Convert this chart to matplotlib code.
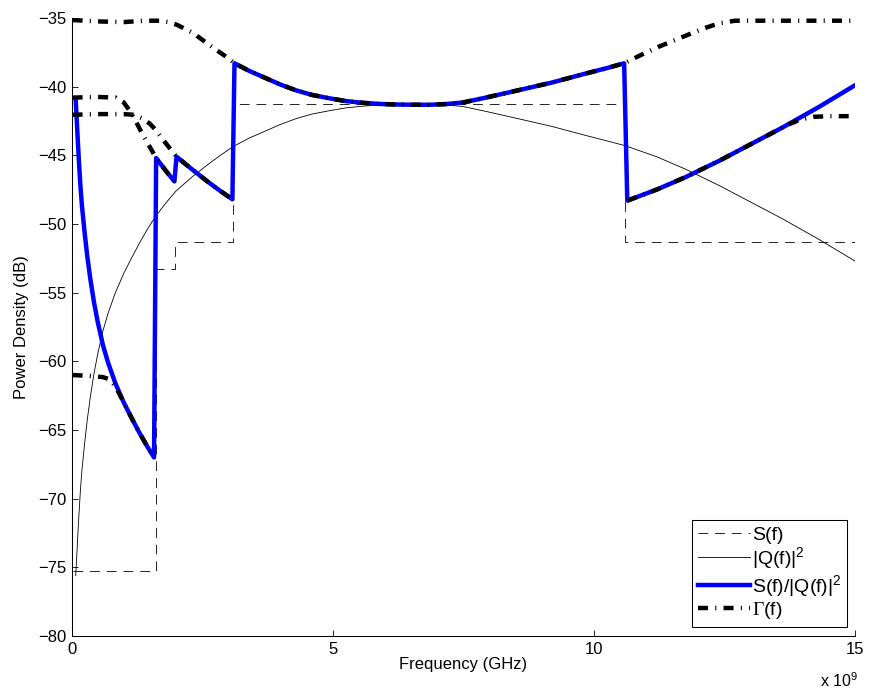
import numpy as np
import matplotlib
matplotlib.use('Agg')
import matplotlib.pyplot as plt

plt.rcParams.update({'font.family': 'Liberation Sans', 'font.size': 12,
    'mathtext.fontset': 'custom', 'mathtext.rm': 'Liberation Sans',
    'mathtext.it': 'Liberation Sans:italic', 'mathtext.sf': 'Liberation Serif',
    'lines.scale_dashes': False, 'axes.linewidth': 0.75,
    'xtick.direction': 'in', 'ytick.direction': 'in',
    'xtick.major.size': 4.5, 'ytick.major.size': 4.5,
    'xtick.major.width': 0.6, 'ytick.major.width': 0.6})

# --- data (frequency in GHz, levels in dB) ---
# S(f): stepwise emission mask
mask_edges = [0.02, 1.61, 1.99, 3.1, 10.6, 15.0]
mask_level = [-75.3, -53.3, -51.3, -41.3, -51.3]

# |Q(f)|^2
q_f = [0.08, 0.10, 0.12, 0.14, 0.17, 0.20, 0.25, 0.30, 0.36, 0.43, 0.50, 0.60,
       0.70, 0.84, 1.00, 1.16, 1.30, 1.45, 1.60, 1.80, 2.00, 2.30, 2.60, 2.85,
       3.10, 3.40, 3.67, 4.00, 4.30, 4.60, 4.94, 5.25, 5.58, 5.90, 6.20, 6.55,
       6.85, 7.17, 7.50, 7.93, 8.57, 9.20, 9.84, 10.25, 10.60, 11.20, 11.75,
       12.40, 13.00, 13.60, 14.30, 15.00]
q_db = [-75.6, -74.2, -72.7, -71.3, -69.4, -67.9, -66.0, -64.3, -62.6, -60.9,
        -59.5, -57.8, -56.5, -55.0, -53.6, -52.4, -51.4, -50.4, -49.5, -48.5,
        -47.6, -46.6, -45.7, -45.0, -44.35, -43.75, -43.3, -42.75, -42.33, -42.0,
        -41.75, -41.55, -41.42, -41.34, -41.3, -41.28, -41.28, -41.33, -41.45,
        -41.8, -42.35, -42.9, -43.55, -43.95, -44.3, -45.1, -46.0, -47.2, -48.4,
        -49.6, -51.1, -52.7]

# S(f)/|Q(f)|^2
r_f = [0.08, 0.10, 0.12, 0.14, 0.17, 0.20, 0.25, 0.30, 0.36, 0.43, 0.50, 0.60,
       0.70, 0.84, 1.00, 1.16, 1.30, 1.45, 1.58, 1.62, 1.80, 1.97, 2.01, 2.30,
       2.60, 2.85, 3.08, 3.12, 3.40, 3.67, 4.00, 4.30, 4.60, 4.94, 5.25, 5.58,
       5.90, 6.20, 6.55, 6.85, 7.17, 7.50, 7.93, 8.57, 9.20, 9.84, 10.25, 10.58,
       10.64, 11.20, 11.75, 12.40, 13.00, 13.60, 14.30, 15.00]
r_db = [-41.0, -42.4, -43.9, -45.3, -47.2, -48.7, -50.6, -52.3, -54.0, -55.7,
        -57.1, -58.8, -60.1, -61.6, -63.0, -64.2, -65.2, -66.2, -67.0, -45.2,
        -46.1, -46.9, -45.1, -46.0, -46.9, -47.6, -48.2, -38.3, -38.85, -39.3,
        -39.85, -40.27, -40.6, -40.85, -41.05, -41.18, -41.26, -41.3, -41.32,
        -41.32, -41.27, -41.15, -40.8, -40.25, -39.7, -39.05, -38.65, -38.3,
        -48.3, -47.5, -46.6, -45.4, -44.2, -43.0, -41.5, -39.9]

# Gamma(f): one trace per mask band
g1_f = [0.02, 0.5, 1.0, 1.4, 1.7, 1.85, 2.02, 2.33, 2.65, 2.97, 3.12, 3.40, 3.67,
        4.00, 4.30, 4.60, 4.94, 5.25, 5.58, 5.90, 6.20, 6.55, 6.85, 7.17, 7.50,
        7.93, 8.57, 9.20, 9.84, 10.25, 10.58, 10.90, 11.24, 11.56, 11.88, 12.15,
        12.39, 12.70, 15.0]
g1_db = [-35.15, -35.25, -35.3, -35.2, -35.2, -35.3, -35.5, -36.1, -37.0, -37.85,
         -38.3, -38.85, -39.3, -39.85, -40.27, -40.6, -40.85, -41.05, -41.18,
         -41.26, -41.3, -41.32, -41.32, -41.27, -41.15, -40.8, -40.25, -39.7,
         -39.05, -38.65, -38.3, -37.7, -37.1, -36.6, -36.1, -35.7, -35.4, -35.2,
         -35.2]
g2_f = [0.02, 0.5, 0.85, 1.0, 1.16, 1.35, 1.5, 1.62, 1.80, 1.97]
g2_db = [-40.8, -40.75, -40.8, -41.15, -42.0, -43.4, -44.4, -45.2, -46.1, -46.9]
g3_f = [0.02, 0.5, 1.0, 1.2, 1.35, 1.5, 1.6, 1.8, 2.01, 2.30, 2.60, 2.85, 3.08]
g3_db = [-42.05, -42.0, -42.0, -42.05, -42.3, -42.7, -43.1, -44.1, -45.1, -46.0,
         -46.9, -47.6, -48.2]
g4_f = [0.02, 0.3, 0.6, 0.72, 0.84, 1.00, 1.16, 1.30, 1.45, 1.58]
g4_db = [-61.0, -61.05, -61.15, -61.3, -61.8, -63.0, -64.2, -65.2, -66.2, -67.0]
g5_f = [10.64, 11.20, 11.75, 12.40, 13.00, 13.40, 13.70, 13.95, 14.2, 14.5, 15.0]
g5_db = [-48.3, -47.5, -46.6, -45.4, -44.2, -43.4, -42.8, -42.4, -42.2, -42.15, -42.15]

GHZ = 1e9
fig = plt.figure(figsize=(8.69, 6.91), dpi=100)
ax = fig.add_axes([0.0823, 0.0796, 0.9016, 0.8944])

ax.plot(np.array(mask_edges)*GHZ, mask_level+[mask_level[-1]], color='k', lw=0.6,
        drawstyle='steps-post', dashes=(7, 5), label='S(f)')
ax.plot(np.array(q_f)*GHZ, q_db, color='k', lw=0.6, label='$|$Q(f)$|^2$')
ax.plot(np.array(r_f)*GHZ, r_db, color='#0000FF', lw=3.2, label='S(f)/$|$Q(f)$|^2$')
gam = [(g1_f, g1_db), (g2_f, g2_db), (g3_f, g3_db), (g4_f, g4_db), (g5_f, g5_db)]
for i, (gf, gd) in enumerate(gam):
    ax.plot(np.array(gf)*GHZ, gd, color='k', lw=3.2, dashes=(7.2, 5.2, 0.8, 5.2),
            dash_capstyle='butt', label='$\\mathsf{\\Gamma}$(f)' if i == 0 else None)

ax.set_xlim(0, 15*GHZ)
ax.set_ylim(-80, -35)
ax.set_xticks([0, 5*GHZ, 10*GHZ, 15*GHZ])
ax.set_xticklabels(['0', '5', '10', '15'])
ax.set_yticks(np.arange(-80, -34, 5))
ax.spines['top'].set_visible(False)
ax.spines['right'].set_visible(False)
ax.tick_params(labelsize=12, pad=4)
ax.set_xlabel('Frequency (GHz)', fontsize=12, labelpad=0)
ax.set_ylabel('Power Density (dB)', fontsize=12, labelpad=6)
fig.text(0.987, 0.002, 'x 10$^9$', ha='right', va='bottom', fontsize=11.5)

leg = ax.legend(loc='lower right', bbox_to_anchor=(0.99, 0.0146), borderaxespad=0,
                fontsize=14, handlelength=2.65, handletextpad=0.1, labelspacing=0.08,
                borderpad=0.3, fancybox=False, framealpha=1, edgecolor='k')
leg.get_frame().set_linewidth(0.75)

fig.savefig('out.png', dpi=100)
